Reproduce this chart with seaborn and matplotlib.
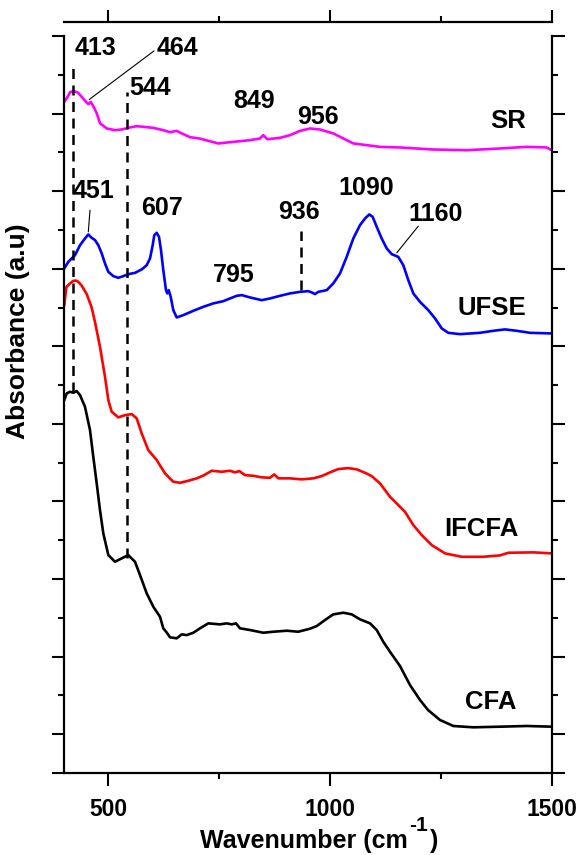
import matplotlib
matplotlib.use("Agg")
import matplotlib.pyplot as plt
import pandas as pd
import seaborn as sns

# ---------------- data (wavenumber cm^-1, stacked absorbance a.u.) ----------------
sr_x = [400.7, 409.0, 413.5, 422.5, 431.6, 439.9, 447.3, 454.8, 460.2, 465.4, 473.7, 481.1,
        496.3, 515.0, 530.1, 548.8, 563.9, 578.8, 601.3, 623.8, 638.9, 654.0, 665.3, 684.0,
        706.6, 747.8, 780.9, 819.3, 841.8, 849.2, 858.3, 886.9, 909.4, 932.0, 954.5, 977.0,
        1007.0, 1052.1, 1082.3, 1112.3, 1157.4, 1231.8, 1307.7, 1382.8, 1443.0, 1488.1, 1499.3]
sr_y = [8.651, 8.724, 8.776, 8.789, 8.769, 8.715, 8.666, 8.621, 8.651, 8.602, 8.505, 8.376,
        8.308, 8.286, 8.295, 8.321, 8.338, 8.329, 8.316, 8.286, 8.260, 8.277, 8.244, 8.196,
        8.177, 8.115, 8.135, 8.157, 8.179, 8.222, 8.170, 8.187, 8.222, 8.277, 8.308, 8.295,
        8.244, 8.115, 8.093, 8.071, 8.063, 8.037, 8.028, 8.050, 8.071, 8.063, 8.028]

ufse_x = [400.7, 409.7, 417.4, 424.8, 436.1, 447.3, 454.8, 462.4, 469.9, 477.3, 485.0, 492.4,
          499.9, 511.1, 522.4, 533.7, 544.9, 560.0, 575.1, 586.4, 593.9, 599.9, 603.5, 609.0,
          614.1, 618.6, 623.8, 629.9, 632.8, 636.0, 640.5, 646.4, 654.0, 668.9, 691.5, 714.0,
          736.5, 759.1, 774.2, 789.3, 800.6, 819.3, 845.6, 864.3, 886.9, 909.4, 932.0, 950.7,
          958.3, 965.8, 973.2, 992.2, 1007.0, 1022.1, 1037.2, 1052.1, 1067.2, 1078.5, 1088.2,
          1095.8, 1104.9, 1116.1, 1127.4, 1138.7, 1153.5, 1164.8, 1176.1, 1187.4, 1202.5,
          1221.2, 1236.3, 1251.4, 1266.2, 1292.6, 1337.7, 1367.7, 1394.1, 1420.4, 1450.4, 1499.3]
ufse_y = [6.504, 6.589, 6.633, 6.675, 6.804, 6.890, 6.942, 6.898, 6.869, 6.804, 6.697, 6.568,
          6.460, 6.405, 6.383, 6.405, 6.430, 6.447, 6.491, 6.546, 6.633, 6.804, 6.933, 6.963,
          6.911, 6.740, 6.482, 6.224, 6.182, 6.224, 6.138, 5.966, 5.872, 5.902, 5.958, 6.009,
          6.053, 6.082, 6.117, 6.151, 6.160, 6.130, 6.095, 6.117, 6.151, 6.182, 6.202, 6.211,
          6.195, 6.173, 6.202, 6.224, 6.311, 6.439, 6.653, 6.890, 7.062, 7.148, 7.200,
          7.169, 7.040, 6.890, 6.762, 6.688, 6.653, 6.546, 6.353, 6.182, 6.073,
          5.966, 5.860, 5.731, 5.674, 5.657, 5.674, 5.700, 5.718, 5.700, 5.674, 5.666]

ifcfa_x = [400.7, 405.2, 409.7, 413.5, 421.0, 427.0, 432.2, 439.9, 451.2, 462.4, 469.9, 481.1,
           492.4, 499.9, 507.5, 522.4, 537.5, 552.6, 563.9, 575.1, 590.0, 609.0, 627.7, 646.4,
           661.5, 680.2, 699.1, 714.0, 732.9, 755.5, 774.2, 785.5, 795.2, 808.0, 826.7, 845.6,
           864.3, 874.0, 883.1, 909.4, 935.8, 961.9, 980.9, 999.6, 1018.3, 1040.8, 1059.8,
           1078.5, 1093.6, 1112.3, 1134.8, 1149.9, 1168.6, 1187.4, 1206.3, 1228.8, 1258.8,
           1296.5, 1345.2, 1382.8, 1401.5, 1457.9, 1499.3]
ifcfa_y = [6.031, 6.263, 6.289, 6.311, 6.344, 6.347, 6.331, 6.282, 6.173, 5.999, 5.812, 5.494,
           5.107, 4.807, 4.656, 4.584, 4.613, 4.626, 4.571, 4.378, 4.162, 4.034, 3.862, 3.754,
           3.741, 3.767, 3.798, 3.834, 3.896, 3.883, 3.896, 3.875, 3.892, 3.840, 3.831, 3.811,
           3.805, 3.849, 3.798, 3.798, 3.785, 3.798, 3.827, 3.875, 3.918, 3.930, 3.914,
           3.870, 3.827, 3.733, 3.561, 3.475, 3.367, 3.196, 3.067, 2.938, 2.831,
           2.787, 2.787, 2.805, 2.839, 2.844, 2.831]

cfa_x = [400.7, 406.1, 413.5, 421.0, 428.6, 436.1, 447.3, 458.6, 466.0, 473.7, 481.1, 488.6,
         499.9, 515.0, 530.1, 544.9, 560.0, 571.3, 586.4, 601.3, 616.4, 623.8, 631.5, 638.9,
         654.0, 665.3, 676.6, 691.5, 706.6, 725.3, 751.6, 766.7, 778.0, 787.7, 796.7, 819.3,
         849.2, 871.8, 902.0, 928.1, 954.5, 969.6, 988.3, 1007.0, 1029.6, 1048.5, 1067.2,
         1089.8, 1104.9, 1119.7, 1134.8, 1157.4, 1179.9, 1202.5, 1220.5, 1247.6, 1277.6,
         1322.6, 1382.8, 1443.0, 1499.3]
cfa_y = [4.807, 4.893, 4.914, 4.901, 4.923, 4.871, 4.720, 4.420, 4.076, 3.733, 3.389, 3.089,
         2.809, 2.723, 2.767, 2.809, 2.723, 2.552, 2.316, 2.143, 2.014, 1.865, 1.811, 1.749,
         1.736, 1.787, 1.778, 1.808, 1.865, 1.929, 1.916, 1.929, 1.916, 1.929, 1.865, 1.843,
         1.808, 1.821, 1.834, 1.821, 1.860, 1.894, 1.972, 2.045, 2.066, 2.045, 1.981,
         1.929, 1.843, 1.692, 1.563, 1.379, 1.134, 0.941, 0.812, 0.683, 0.606,
         0.589, 0.597, 0.606, 0.597]

samples = ["SR", "UFSE", "IFCFA", "CFA"]
colors = ["#FF00FF", "#0000FF", "#FF0000", "#000000"]

# peak labels (text) and marker lines
peak_labels = ["413", "464", "544", "849", "956", "451", "607", "795", "936", "1090", "1160"]
dash_x = [421, 542, 934]
dash_ytop = [9.10, 8.78, 6.98]
dash_ybot = [4.91, 2.77, 6.22]

# ---------------- build long table ----------------
frames = []
for name, xs, ys in [("SR", sr_x, sr_y), ("UFSE", ufse_x, ufse_y),
                     ("IFCFA", ifcfa_x, ifcfa_y), ("CFA", cfa_x, cfa_y)]:
    frames.append(pd.DataFrame({"wavenumber": xs, "absorbance": ys, "sample": name}))
df = pd.concat(frames, ignore_index=True)

sns.set_theme(style="ticks")
plt.rcParams["font.family"] = ["Liberation Sans", "DejaVu Sans"]
plt.rcParams["font.weight"] = "bold"
plt.rcParams["text.color"] = "black"

fig = plt.figure(figsize=(5.84, 8.55), dpi=100)
ax = fig.add_axes([0.1096, 0.0959, 0.8356, 0.8620])

sns.lineplot(data=df, x="wavenumber", y="absorbance", hue="sample", hue_order=samples,
             palette=dict(zip(samples, colors)), sort=False, estimator=None,
             legend=False, linewidth=1.9, ax=ax)

ax.set_xlim(400, 1500)
ax.set_ylim(0, 9.5)
ax.set_xlabel("")

# dashed peak markers
for x, y0, y1 in zip(dash_x, dash_ybot, dash_ytop):
    ax.plot([x, x], [y0, y1], color="black", lw=1.8, ls=(0, (4.0, 2.6)))

# leader lines
ax.plot([454.8, 458.6], [6.976, 7.255], color="black", lw=0.8)
ax.plot([457.0, 602.9], [8.682, 9.308], color="black", lw=0.8)
ax.plot([1150.0, 1198.6], [6.705, 7.049], color="black", lw=0.8)

tfont = dict(fontsize=18, fontweight="bold", color="black", ha="center", va="center")
label_pos = [(471.0, 9.343), (654.7, 9.343), (593.9, 8.827), (828.3, 8.660), (972.5, 8.454),
             (467.6, 7.500), (620.9, 7.281), (783.2, 6.418), (928.6, 7.236), (1080.7, 7.539),
             (1238.5, 7.204)]
for txt, (x, y) in zip(peak_labels, label_pos):
    ax.text(x, y, txt, **tfont)

name_pos = [(1441.4, 8.402), (1443.0, 5.999), (1425.6, 3.144), (1420.4, 0.921)]
for txt, (x, y) in zip(samples, name_pos):
    ax.text(x, y, txt, fontsize=18.5, fontweight="bold", color="black", ha="right", va="center")

# axes styling
for s in ["left", "right", "bottom", "top"]:
    ax.spines[s].set_visible(True)
    ax.spines[s].set_linewidth(1.6)
    ax.spines[s].set_color("black")
ax.spines["top"].set_position(("outward", 10))

ax.set_xticks([500, 1000, 1500])
ax.set_xticks([750, 1250], minor=True)
ax.set_yticks([0, 0.5, 1.5, 2.5, 3.5, 4.5, 5.5, 6.5, 7.5, 8.5, 9.5])
ax.set_yticks([1, 2, 3, 4, 5, 6, 7, 8, 9], minor=True)
ax.set_yticklabels([])
ax.tick_params(axis="both", which="major", direction="out", length=9, width=1.5,
               color="black", labelsize=16.5, labelcolor="black")
ax.tick_params(axis="both", which="minor", direction="out", length=4.5, width=1.5, color="black")
ax.tick_params(axis="x", which="both", top=True, bottom=True, labeltop=False, pad=9)
ax.tick_params(axis="y", which="both", left=True, right=True, labelleft=False, labelright=False)
for lab in ax.get_xticklabels():
    lab.set_fontweight("bold")

# x-axis title with a large superscript, built from three text pieces
fig.text(408 / 584, 1 - 848 / 855, "Wavenumber (cm", fontsize=18, fontweight="bold",
         ha="right", va="baseline", color="black")
fig.text(409 / 584, 1 - 831 / 855, "-1", fontsize=15, fontweight="bold",
         ha="left", va="baseline", color="black")
fig.text(430 / 584, 1 - 848 / 855, ")", fontsize=18, fontweight="bold",
         ha="left", va="baseline", color="black")

ax.set_ylabel("Absorbance (a.u)", fontsize=19, fontweight="bold", color="black")
ax.yaxis.set_label_coords(-0.070, 0.600)

fig.savefig("out.png", dpi=100, facecolor="white")
